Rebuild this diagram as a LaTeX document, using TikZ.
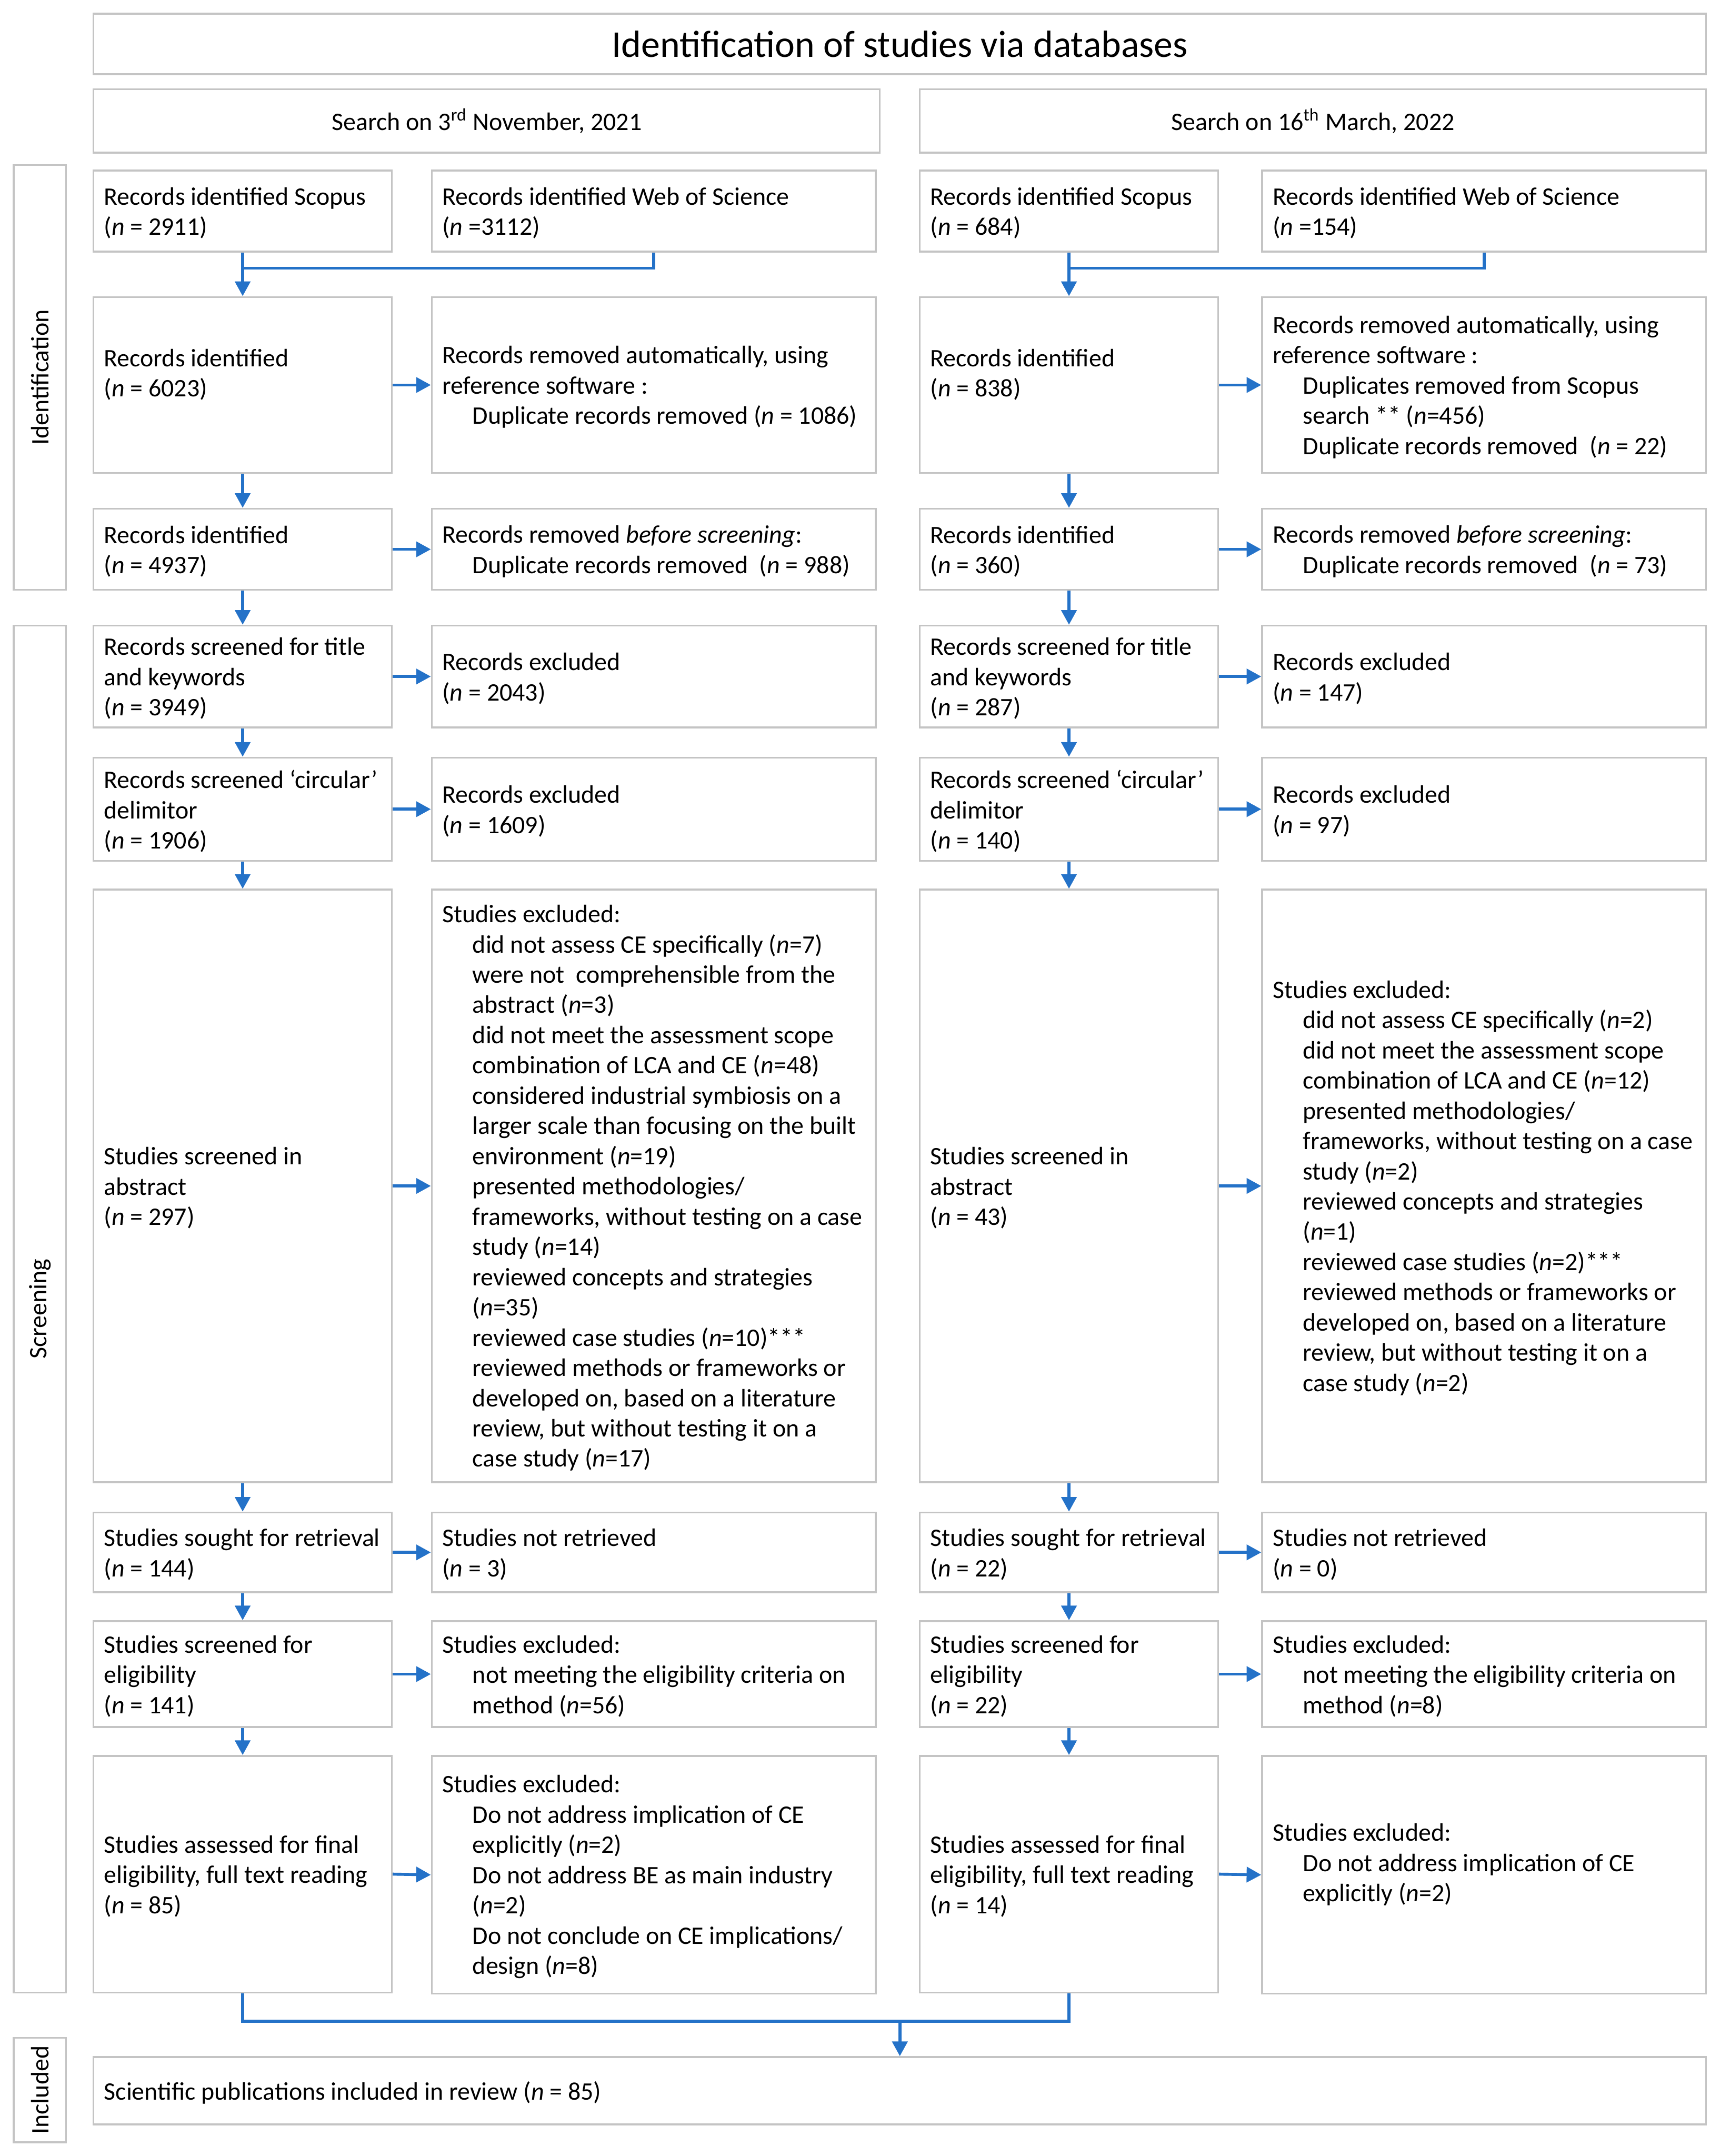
\documentclass[tikz,border=0pt]{standalone}
\usepackage{fontspec}
\setmainfont{Carlito}
\usetikzlibrary{arrows.meta}
\definecolor{arrblue}{RGB}{36,114,200}
\definecolor{boxgray}{RGB}{196,196,196}
\newcommand\ind{\hspace*{13.2pt}}
\newcommand\nn{\textit{n}}
\newcommand\bx[5]{\node[box, minimum width={(#4-#2)*0.6pt}, minimum height={(#5-#3)*0.6pt}] (#1) at ({(#2+#4)/2},{(#3+#5)/2}) {};}
\newcommand\tx[3][0]{\node[txt] (#2t) at ([xshift=4.8pt,yshift={(#1-1.5)*0.6pt}]#2.west) {#3};}
\begin{document}
\begin{tikzpicture}[x=0.6pt,y=-0.6pt,
 box/.style={draw=boxgray, line width=0.75pt, inner sep=0pt, fill=white},
 txt/.style={anchor=west, align=left, inner sep=0pt, font=\fontsize{11}{13.2}\selectfont},
 side/.style={rotate=90, inner sep=0pt, font=\fontsize{11}{13.2}\selectfont},
 ln/.style={draw=arrblue, line width=1.3pt, line join=miter},
 arr/.style={ln, -{Triangle[length=6.4pt,width=6.6pt]}},
]
\useasboundingbox (0,0) rectangle (1251,1568);

% headers
\bx{T}{68}{10}{1241}{54}
\node[inner sep=0pt, font=\fontsize{16.5}{20}\selectfont] (Tt) at (T) {Identification of studies via databases};
\bx{S1}{68}{65}{640}{111}
\node[inner sep=0pt, font=\fontsize{11}{13.2}\selectfont] (S1t) at (S1) {Search on 3\textsuperscript{rd} November, 2021};
\bx{S2}{669}{65}{1241}{111}
\node[inner sep=0pt, font=\fontsize{11}{13.2}\selectfont] (S2t) at (S2) {Search on 16\textsuperscript{th} March, 2022};

% side bars
\bx{PI}{10}{120}{48}{429}
\node[side] (PIt) at (PI) {Identification};
\bx{PS}{10}{455}{48}{1449}
\node[side] (PSt) at (PS) {Screening};
\bx{PN}{10}{1482}{48}{1558}
\node[side] (PNt) at (PN) {Included};

% ---------- left search ----------
\bx{A1}{68}{124}{285}{183}   \tx{A1}{Records identified Scopus\\(\nn\ = 2911)}
\bx{B1}{314}{124}{637}{183}  \tx{B1}{Records identified Web of Science\\(\nn\ =3112)}
\bx{A2}{68}{216}{285}{344}   \tx[9]{A2}{Records identified\\(\nn\ = 6023)}
\bx{B2}{314}{216}{637}{344}  \tx{B2}{Records removed automatically, using\\reference software :\\\ind Duplicate records removed (\nn\ = 1086)}
\bx{A3}{68}{370}{285}{429}   \tx{A3}{Records identified\\(\nn\ = 4937)}
\bx{B3}{314}{370}{637}{429}  \tx{B3}{Records removed \textit{before screening}:\\\ind Duplicate records removed\ \ (\nn\ = 988)}
\bx{A4}{68}{455}{285}{529}   \tx{A4}{Records screened for title\\and keywords\\(\nn\ = 3949)}
\bx{B4}{314}{455}{637}{529}  \tx{B4}{Records excluded\\(\nn\ = 2043)}
\bx{A5}{68}{551}{285}{626}   \tx{A5}{Records screened ‘circular’\\delimitor\\(\nn\ = 1906)}
\bx{B5}{314}{551}{637}{626}  \tx{B5}{Records excluded\\(\nn\ = 1609)}
\bx{A6}{68}{647}{285}{1078}  \tx{A6}{Studies screened in\\abstract\\(\nn\ = 297)}
\bx{B6}{314}{647}{637}{1078} \tx{B6}{Studies excluded:\\
\ind did not assess CE specifically (\nn=7)\\
\ind were not\ \ comprehensible from the\\
\ind abstract (\nn=3)\\
\ind did not meet the assessment scope\\
\ind combination of LCA and CE (\nn=48)\\
\ind considered industrial symbiosis on a\\
\ind larger scale than focusing on the built\\
\ind environment (\nn=19)\\
\ind presented methodologies/\\
\ind frameworks, without testing on a case\\
\ind study (\nn=14)\\
\ind reviewed concepts and strategies\\
\ind (\nn=35)\\
\ind reviewed case studies (\nn=10)***\\
\ind reviewed methods or frameworks or\\
\ind developed on, based on a literature\\
\ind review, but without testing it on a\\
\ind case study (\nn=17)}
\bx{A7}{68}{1100}{285}{1158}  \tx{A7}{Studies sought for retrieval\\(\nn\ = 144)}
\bx{B7}{314}{1100}{637}{1158} \tx{B7}{Studies not retrieved\\(\nn\ = 3)}
\bx{A8}{68}{1179}{285}{1256}  \tx{A8}{Studies screened for\\eligibility\\(\nn\ = 141)}
\bx{B8}{314}{1179}{637}{1256} \tx{B8}{Studies excluded:\\\ind not meeting the eligibility criteria on\\\ind method (\nn=56)}
\bx{A9}{68}{1277}{285}{1449}  \tx{A9}{Studies assessed for final\\eligibility, full text reading\\(\nn\ = 85)}
\bx{B9}{314}{1277}{637}{1450} \tx{B9}{Studies excluded:\\
\ind Do not address implication of CE\\
\ind explicitly (\nn=2)\\
\ind Do not address BE as main industry\\
\ind (\nn=2)\\
\ind Do not conclude on CE implications/\\
\ind design (\nn=8)}

% ---------- right search ----------
\bx{C1}{669}{124}{886}{183}   \tx{C1}{Records identified Scopus\\(\nn\ = 684)}
\bx{D1}{918}{124}{1241}{183}  \tx{D1}{Records identified Web of Science\\(\nn\ =154)}
\bx{C2}{669}{216}{886}{344}   \tx[9]{C2}{Records identified\\(\nn\ = 838)}
\bx{D2}{918}{216}{1241}{344}  \tx{D2}{Records removed automatically, using\\reference software :\\\ind Duplicates removed from Scopus\\\ind search ** (\nn=456)\\\ind Duplicate records removed\ \ (\nn\ = 22)}
\bx{C3}{669}{370}{886}{429}   \tx{C3}{Records identified\\(\nn\ = 360)}
\bx{D3}{918}{370}{1241}{429}  \tx{D3}{Records removed \textit{before screening}:\\\ind Duplicate records removed\ \ (\nn\ = 73)}
\bx{C4}{669}{455}{886}{529}   \tx{C4}{Records screened for title\\and keywords\\(\nn\ = 287)}
\bx{D4}{918}{455}{1241}{529}  \tx{D4}{Records excluded\\(\nn\ = 147)}
\bx{C5}{669}{551}{886}{626}   \tx{C5}{Records screened ‘circular’\\delimitor\\(\nn\ = 140)}
\bx{D5}{918}{551}{1241}{626}  \tx{D5}{Records excluded\\(\nn\ = 97)}
\bx{C6}{669}{647}{886}{1078}  \tx{C6}{Studies screened in\\abstract\\(\nn\ = 43)}
\bx{D6}{918}{647}{1241}{1078} \tx{D6}{Studies excluded:\\
\ind did not assess CE specifically (\nn=2)\\
\ind did not meet the assessment scope\\
\ind combination of LCA and CE (\nn=12)\\
\ind presented methodologies/\\
\ind frameworks, without testing on a case\\
\ind study (\nn=2)\\
\ind reviewed concepts and strategies\\
\ind (\nn=1)\\
\ind reviewed case studies (\nn=2)***\\
\ind reviewed methods or frameworks or\\
\ind developed on, based on a literature\\
\ind review, but without testing it on a\\
\ind case study (\nn=2)}
\bx{C7}{669}{1100}{886}{1158}  \tx{C7}{Studies sought for retrieval\\(\nn\ = 22)}
\bx{D7}{918}{1100}{1241}{1158} \tx{D7}{Studies not retrieved\\(\nn\ = 0)}
\bx{C8}{669}{1179}{886}{1256}  \tx{C8}{Studies screened for\\eligibility\\(\nn\ = 22)}
\bx{D8}{918}{1179}{1241}{1256} \tx{D8}{Studies excluded:\\\ind not meeting the eligibility criteria on\\\ind method (\nn=8)}
\bx{C9}{669}{1277}{886}{1449}  \tx{C9}{Studies assessed for final\\eligibility, full text reading\\(\nn\ = 14)}
\bx{D9}{918}{1277}{1241}{1450} \tx[9]{D9}{Studies excluded:\\\ind Do not address implication of CE\\\ind explicitly (\nn=2)}

% final
\bx{F}{68}{1496}{1241}{1545} \tx{F}{Scientific publications included in review (\nn\ = 85)}

% ---------- connectors ----------
\coordinate (mL) at (176.5,195);
\coordinate (mR) at (777.5,195);
\draw[ln] (B1.south) |- (mL);
\draw[ln] (D1.south) |- (mR);
\foreach \c in {A,C}{
  \draw[arr] (\c1.south) -- (\c2.north);
  \draw[arr] (\c2.south) -- (\c3.north);
  \draw[arr] (\c3.south) -- (\c4.north);
  \draw[arr] (\c4.south) -- (\c5.north);
  \draw[arr] (\c5.south) -- (\c6.north);
  \draw[arr] (\c6.south) -- (\c7.north);
  \draw[arr] (\c7.south) -- (\c8.north);
  \draw[arr] (\c8.south) -- (\c9.north);
}
\foreach \i in {2,...,9}{
  \draw[arr] (A\i.east) -- (B\i.west);
  \draw[arr] (C\i.east) -- (D\i.west);
}
\coordinate (mB) at (654.5,1470);
\draw[ln] (A9.south) |- (mB);
\draw[ln] (C9.south) |- (mB);
\draw[arr] (mB) -- (F.north);
\end{tikzpicture}
\end{document}
